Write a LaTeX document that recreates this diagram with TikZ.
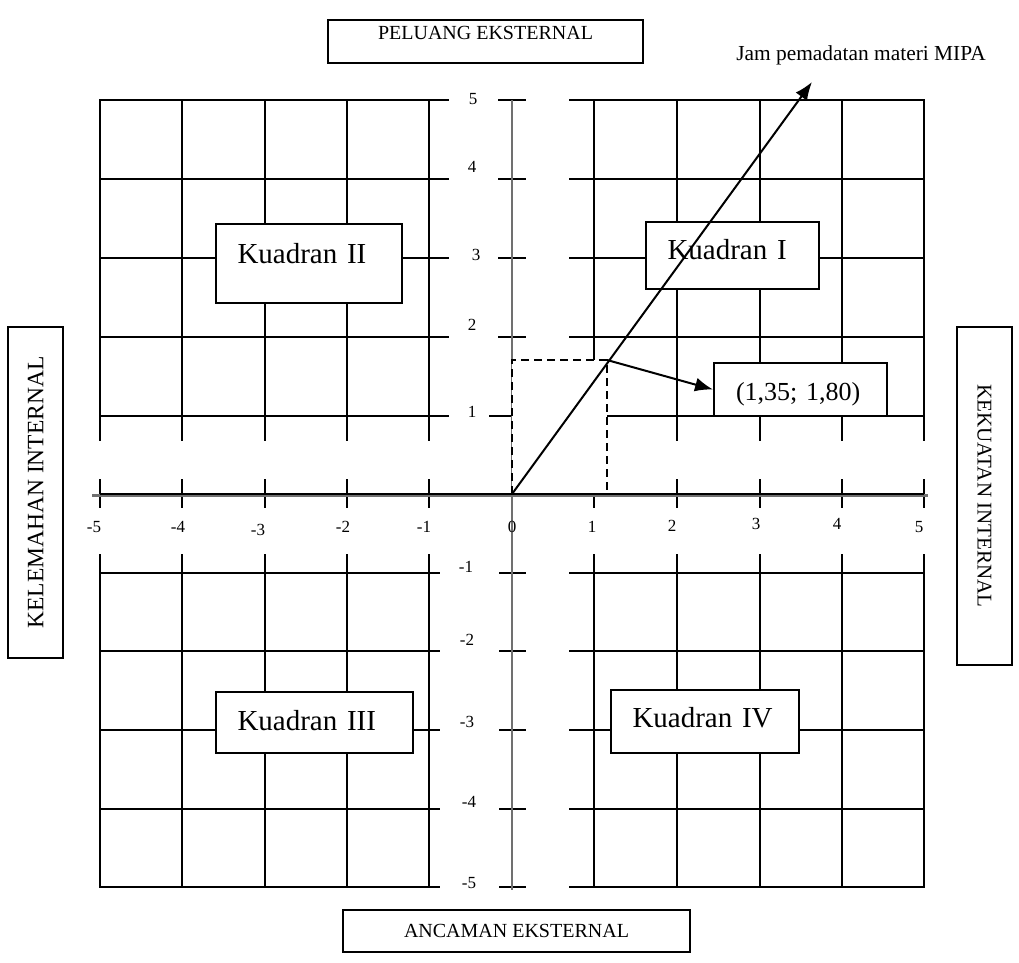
\documentclass[tikz,border=0pt]{standalone}
\usepackage{fontspec}
\setmainfont{Liberation Serif}
\usetikzlibrary{arrows.meta}
\definecolor{axisgray}{RGB}{112,112,112}
\begin{document}
\begin{tikzpicture}[x=1pt,y=-1pt,
  gridline/.style={black,line width=2pt},
  axisline/.style={axisgray,line width=2.8pt},
  labelbox/.style={draw,line width=1.4pt,fill=white,inner sep=0pt,font=\fontsize{20}{22}\selectfont},
  qbox/.style={draw,line width=1.9pt,fill=white,inner xsep=21.5pt,inner ysep=0pt,align=left,font=\fontsize{29}{31}\selectfont},
  num/.style={inner sep=0pt,font=\fontsize{17}{19}\selectfont},
  arrowline/.style={line width=2pt,-{Latex[length=18pt,width=14pt]}}]
\useasboundingbox (0,0) rectangle (1019,962);

% grid: two blocks of squares, cut by a band round each axis
\foreach \y in {100,179,258,337,416} {
  \draw[gridline] (100,\y) -- (449,\y);
  \draw[gridline] (569,\y) -- (924,\y);
}
\foreach \y in {100,179,258,337} \draw[gridline] (498,\y) -- (526,\y);
\draw[gridline] (489,416) -- (526,416);
\foreach \y in {573,651,730,809,887} {
  \draw[gridline] (100,\y) -- (440,\y);
  \draw[gridline] (499,\y) -- (526,\y);
  \draw[gridline] (569,\y) -- (924,\y);
}
\foreach \x in {100,182,265,347,429,594,677,760,842,924} {
  \draw[gridline] (\x,99) -- (\x,441);
  \draw[gridline] (\x,479) -- (\x,508);
  \draw[gridline] (\x,554) -- (\x,888);
}

% axes
\draw[axisline] (512,100) -- (512,890);
\draw[axisline,line width=3pt] (92,495.5) -- (928,495.5);
\draw[black,line width=1.7pt] (100,494) -- (924,494);

% projection of the point onto the axes
\coordinate (o) at (512,494);
\coordinate (p) at (607,360);
\fill[white] (512,360) rectangle (607,493);
\draw[line width=2pt,dash pattern=on 8pt off 5pt] (512,494) -- (512,360) -- (607,360) -- (607,494);
\draw[line width=2pt,dash pattern=on 8pt off 5pt] (607,494) -- (512,494);

% quadrant boxes
\node[qbox,text width=143pt,text height=39pt,text depth=40pt] (q2) at (309,263.5) {Kuadran II};
\node[qbox,text width=130pt,text height=37pt,text depth=30pt] (q1) at (732.5,255.5) {Kuadran I};
\node[qbox,text width=154pt,text height=38pt,text depth=23pt] (q3) at (314.5,722.5) {Kuadran III};
\node[qbox,text width=145pt,text height=37pt,text depth=26pt] (q4) at (705,721.5) {Kuadran IV};

% strategy vector
\coordinate (tip) at (812,82);
\draw[arrowline] (o) -- (tip);
\node[qbox,inner xsep=22pt,text width=129pt,text height=37pt,text depth=16pt,font=\fontsize{26}{28}\selectfont] (pt) at (800.5,389.5) {(1,35; 1,80)};
\draw[arrowline] (p) -- (pt.west);
\node[font=\fontsize{21.4}{23}\selectfont] (jam) at (861,55) {Jam pemadatan materi MIPA};

% side labels
\node[labelbox,minimum width=315pt,text height=18pt,text depth=22pt,inner ysep=1.5pt] (peluang) at (485.5,41.5) {PELUANG EKSTERNAL};
\node[labelbox,minimum width=347pt,minimum height=42pt] (ancaman) at (516.5,931) {ANCAMAN EKSTERNAL};
\node[labelbox,rotate=90,minimum width=331pt,minimum height=55pt,font=\fontsize{23.5}{25}\selectfont] (kelemahan) at (35.5,492.5) {KELEMAHAN INTERNAL};
\node[labelbox,rotate=-90,minimum width=338pt,minimum height=55pt,font=\fontsize{21}{23}\selectfont] (kekuatan) at (984.5,496) {KEKUATAN INTERNAL};

% axis numbers
\node[num] (xm5) at (94,527) {-5};
\node[num] (xm4) at (178,527) {-4};
\node[num] (xm3) at (258,530) {-3};
\node[num] (xm2) at (343,527) {-2};
\node[num] (xm1) at (424,527) {-1};
\node[num] (x0) at (512,527) {0};
\node[num] (x1) at (592,527) {1};
\node[num] (x2) at (672,526) {2};
\node[num] (x3) at (756,524) {3};
\node[num] (x4) at (837,524) {4};
\node[num] (x5) at (919,527) {5};
\node[num] (y5) at (473,99) {5};
\node[num] (y4) at (472,167) {4};
\node[num] (y3) at (476,255) {3};
\node[num] (y2) at (472,325) {2};
\node[num] (y1) at (472,412) {1};
\node[num] (ym1) at (466,567) {-1};
\node[num] (ym2) at (467,640) {-2};
\node[num] (ym3) at (467,722) {-3};
\node[num] (ym4) at (469,802) {-4};
\node[num] (ym5) at (469,883) {-5};
\end{tikzpicture}
\end{document}
